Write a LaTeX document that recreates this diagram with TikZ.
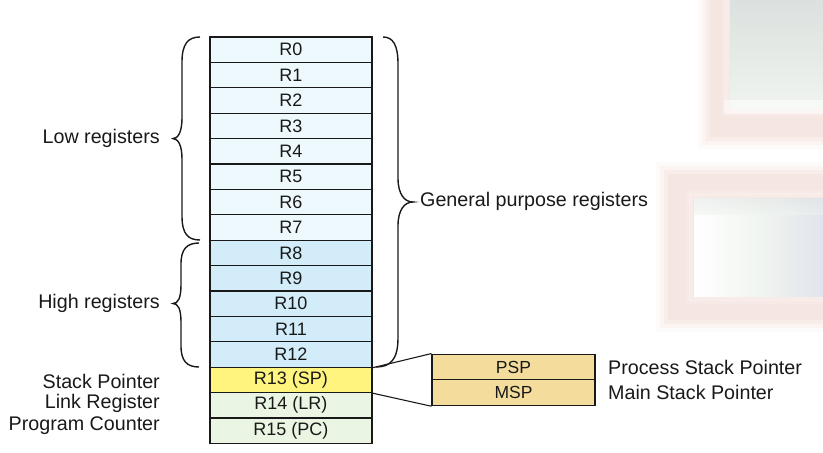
\documentclass[tikz,border=0pt]{standalone}
\usepackage{fontspec}
\setmainfont{Liberation Sans}
\begin{document}
\begin{tikzpicture}[x=1pt,y=-1pt,
  reg/.style={draw=black!90, line width=1.1pt, minimum width=162pt, minimum height=25.4pt, inner sep=0pt, font=\fontsize{18}{18}\selectfont, text=black!90},
  lbl/.style={inner sep=0pt, font=\fontsize{19.7}{20}\selectfont, text=black!90},
  brc/.style={line width=1.4pt, black!90},
  conn/.style={line width=1.1pt, black!90}]
\definecolor{lowc}{HTML}{EEF9FE}
\definecolor{highc}{HTML}{D3ECF9}
\definecolor{spc}{HTML}{FFF47E}
\definecolor{grc}{HTML}{EAF6E3}
\definecolor{tanc}{HTML}{F4DD9C}
\definecolor{pinkb}{HTML}{F1D8D2}
\definecolor{greyb}{HTML}{DADEDC}
\definecolor{lgreenb}{HTML}{F0F4F0}
\definecolor{blueb}{HTML}{DFE2EC}
\useasboundingbox (0,0) rectangle (823,453);
% blurred background shapes
\foreach \d/\o in {14/.12,10/.18,6/.25,2/.35}{
  \fill[pinkb, opacity=\o] (712-\d,-10) rectangle (830,135+\d);
  \fill[pinkb, opacity=\o] (670-\d,176-\d) rectangle (830,318+\d);
}
\shade[top color=greyb, bottom color=lgreenb] (730,-10) rectangle (830,108);
\fill[white, opacity=.5] (724,100) rectangle (830,114);
\shade[left color=white, right color=blueb, middle color=lgreenb] (694,198) rectangle (830,296);
\shade[top color=greyb!80, bottom color=lgreenb, opacity=.5] (694,198) rectangle (830,214);
\foreach \d/\o in {3/.25,6/.15}{
  \draw[white, opacity=\o, line width=4pt] (694-\d,198-\d) rectangle (840,296+\d);
  \draw[white, opacity=\o, line width=4pt] (730-\d,-20) rectangle (840,108+\d);
}
% registers
\foreach \i in {0,...,7}{
  \node[reg, fill=lowc] (r\i) at (291, 37+12.7+25.4*\i) {R\i};
}
\foreach \i in {8,...,12}{
  \node[reg, fill=highc] (r\i) at (291, 37+12.7+25.4*\i) {R\i};
}
\node[reg, fill=spc] (r13) at (291, 37+12.7+25.4*13) {R13 (SP)};
\node[reg, fill=grc] (r14) at (291, 37+12.7+25.4*14) {R14 (LR)};
\node[reg, fill=grc] (r15) at (291, 37+12.7+25.4*15) {R15 (PC)};
% PSP / MSP
\node[reg, fill=tanc, minimum width=163pt, minimum height=25.8pt, font=\fontsize{17.5}{18}\selectfont] (psp) at (513.5, 367) {PSP};
\node[reg, fill=tanc, minimum width=163pt, minimum height=25.8pt, font=\fontsize{17.5}{18}\selectfont] (msp) at (513.5, 392.8) {MSP};
\draw[conn] (r12.south east) -- (psp.north west);
\draw[conn] (r13.south east) -- (msp.south west);
% braces
\draw[brc] (200,37) .. controls (188,37) and (182,44) .. (182,62) -- (182,118)
  .. controls (182,132) and (178,138.6) .. (173,138.6)
  .. controls (178,138.6) and (182,145) .. (182,159) -- (182,216)
  .. controls (182,234) and (188,240) .. (200,240);
\draw[brc] (199,243) .. controls (187,243) and (181,249) .. (181,264) -- (181,285)
  .. controls (181,298) and (178,303.5) .. (173,303.5)
  .. controls (178,303.5) and (181,309) .. (181,322) -- (181,346)
  .. controls (181,361) and (187,367) .. (199,367);
\draw[brc] (383,37) .. controls (393,37) and (398,45) .. (398,64) -- (398,178)
  .. controls (398,195) and (405,202) .. (413,202)
  .. controls (405,202) and (398,209) .. (398,226) -- (398,338)
  .. controls (398,360) and (390,367) .. (376,367);
% labels
\node[lbl, anchor=west] (gp) at (420,201) {General purpose registers};
\node[lbl, anchor=east] (low) at (160,138.6) {Low registers};
\node[lbl, anchor=east] (high) at (160,303.5) {High registers};
\node[lbl, anchor=east] (spl) at (160,381.5) {Stack Pointer};
\node[lbl, anchor=east] (lrl) at (160,403.5) {Link Register};
\node[lbl, anchor=east] (pcl) at (160,425.5) {Program Counter};
\node[lbl, anchor=west] (pspl) at (608,367) {Process Stack Pointer};
\node[lbl, anchor=west] (mspl) at (608,392.5) {Main Stack Pointer};
\end{tikzpicture}
\end{document}
